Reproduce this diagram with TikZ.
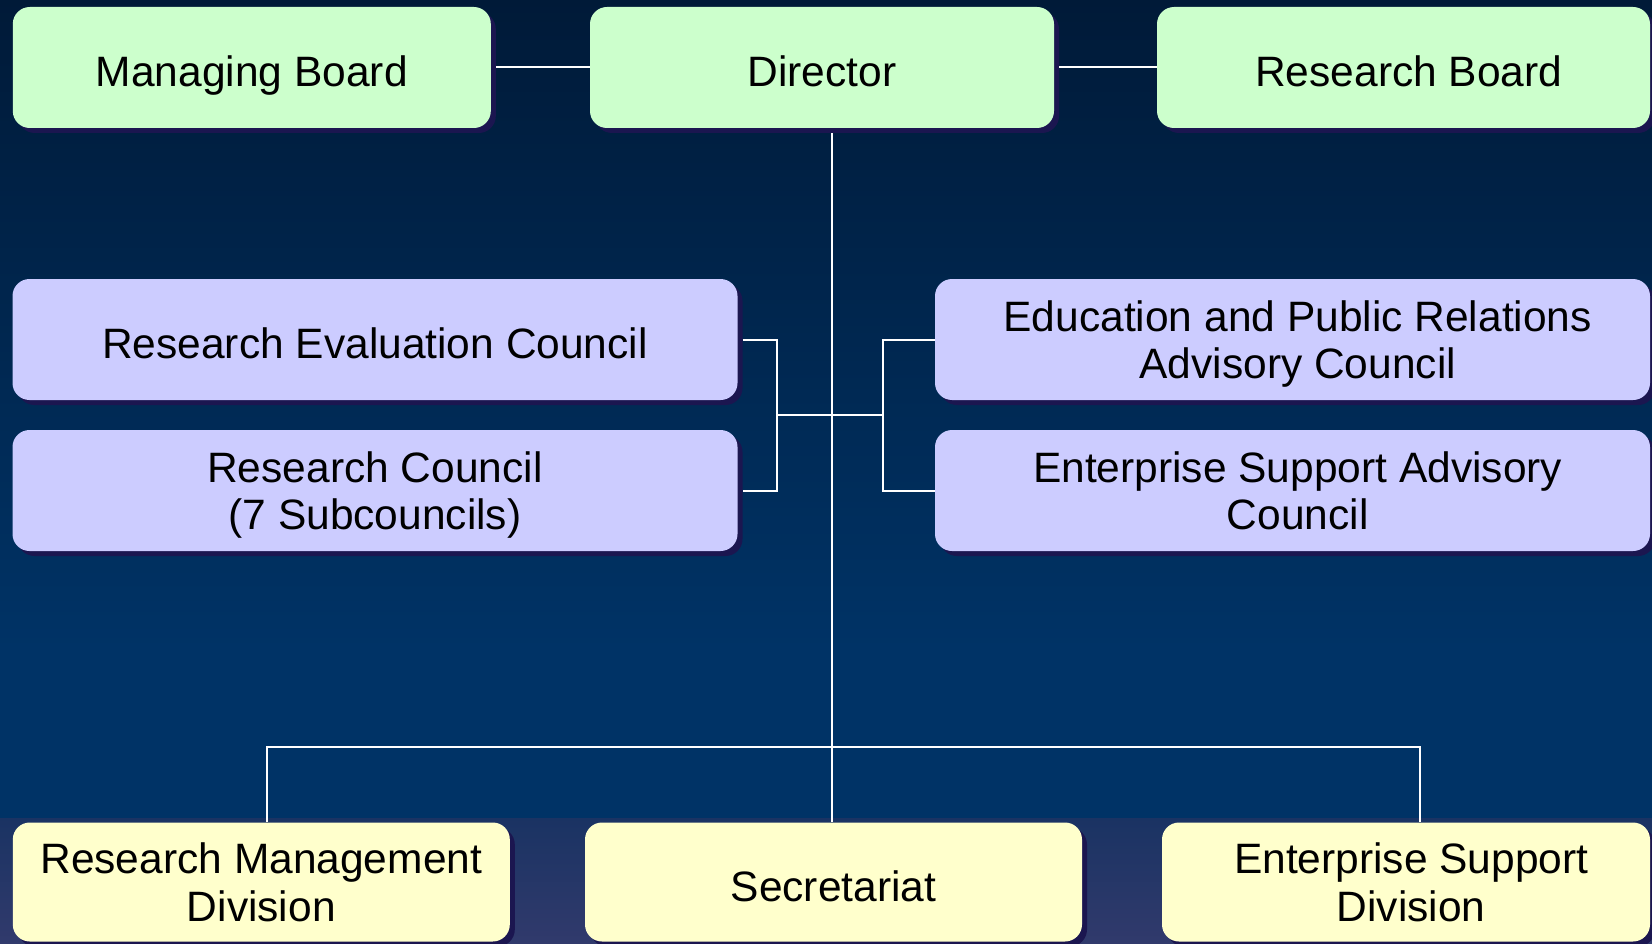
\documentclass[tikz,border=0pt]{standalone}
\usepackage{fontspec}
\setmainfont{Liberation Sans}
\usetikzlibrary{shadows}
\definecolor{bgtop}{HTML}{001A38}
\definecolor{bgmid}{HTML}{003366}
\definecolor{bgbotA}{HTML}{1A3363}
\definecolor{bgbotB}{HTML}{313A6C}
\definecolor{greenbox}{HTML}{CCFFCC}
\definecolor{bluebox}{HTML}{CCCCFF}
\definecolor{yellowbox}{HTML}{FFFFCC}
\definecolor{shadowc}{HTML}{1B1650}
\newcommand\rpad{\hspace*{10.5pt}}
\begin{document}
\begin{tikzpicture}[x=1pt,y=-1pt,
  box/.style={rounded corners=17pt, inner sep=0pt, align=center,
    font=\fontsize{42.5}{47.5}\selectfont, text=black,
    general shadow={shadow xshift=5pt, shadow yshift=-5pt, fill=shadowc},
    minimum height=121pt},
  oneline/.style={text height=41.4pt, text depth=3pt},
  twoline/.style={text height=81.9pt, text depth=3pt},
  conn/.style={draw=white, line width=2pt}]
\useasboundingbox (0,0) rectangle (1652,944);
\shade[top color=bgtop, bottom color=bgmid] (0,0) rectangle (1652,650);
\fill[bgmid] (0,649) rectangle (1652,818);
\shade[top color=bgbotA, bottom color=bgbotB] (0,818) rectangle (1652,944);

% top row
\node[box, oneline, fill=greenbox, minimum width=478pt] (mb) at (251.8,67.5) {Managing Board};
\node[box, oneline, fill=greenbox, minimum width=464pt] (dir) at (822,67.5) {Director};
\node[box, oneline, fill=greenbox, minimum width=493pt] (rb) at (1403.5,67.5) {\rpad Research Board};

% councils
\node[box, oneline, fill=bluebox, minimum width=725pt] (rec) at (375,339.5) {Research Evaluation Council};
\node[box, twoline, fill=bluebox, minimum width=725pt] (rc) at (375,490.5) {Research Council\\(7 Subcouncils)};
\node[box, twoline, fill=bluebox, minimum width=715pt] (edu) at (1292.5,339.5) {\rpad Education and Public Relations\\\rpad Advisory Council};
\node[box, twoline, fill=bluebox, minimum width=715pt] (esa) at (1292.5,490.5) {\rpad Enterprise Support Advisory\\\rpad Council};

% divisions
\node[box, twoline, fill=yellowbox, minimum width=497pt, minimum height=119pt] (rmd) at (261.3,882) {Research Management\\Division};
\node[box, oneline, fill=yellowbox, minimum width=497pt, minimum height=119pt] (sec) at (833.5,882) {Secretariat};
\node[box, twoline, fill=yellowbox, minimum width=488pt, minimum height=119pt] (esd) at (1406,882) {\rpad Enterprise Support\\\rpad Division};

% junction coordinates
\coordinate (trunk) at (832,414.7);
\coordinate (lb) at (777,414.7);
\coordinate (rbk) at (883.3,414.7);
\coordinate (bl) at (266.6,747);
\coordinate (br) at (1420,747);

% connectors
\draw[conn] ([xshift=5pt]mb.east) -- (dir.west |- mb.east);
\draw[conn] ([xshift=5pt]dir.east) -- (rb.west |- dir.east);
\draw[conn] ([yshift=-5pt]dir.south -| trunk) -- (sec.north -| trunk);
\draw[conn] ([xshift=5pt]rec.east) -| (lb) |- ([xshift=5pt]rc.east);
\draw[conn] (edu.west) -| (rbk) |- (esa.west);
\draw[conn] (lb) -- (rbk);
\draw[conn] (rmd.north -| bl) -- (bl) -- (br) -- (esd.north -| br);
\end{tikzpicture}
\end{document}
